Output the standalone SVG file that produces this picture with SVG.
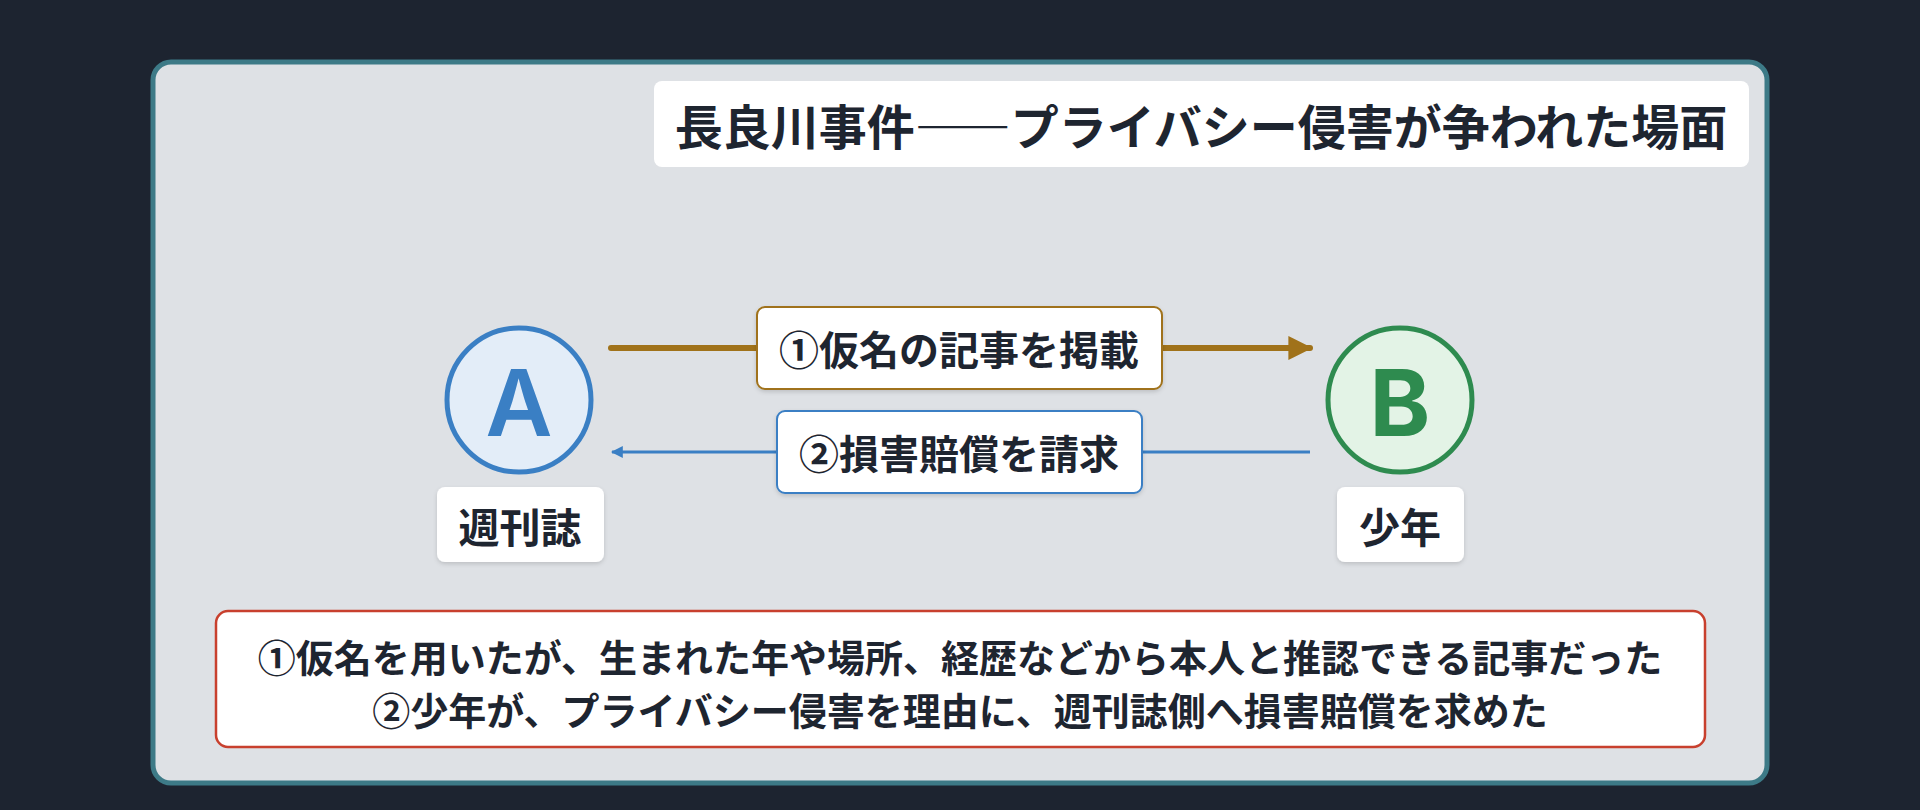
<svg xmlns="http://www.w3.org/2000/svg" width="1920" height="810" viewBox="0 0 1920 810">
<style>
text{font-family:"Noto Sans CJK JP","Noto Sans",sans-serif;fill:#1e2530;text-anchor:middle;dominant-baseline:central;font-weight:700}
.box{fill:#ffffff}
</style>
<defs>
<marker id="ag" viewBox="0 0 10 10" refX="9" refY="5" markerWidth="4" markerHeight="4" orient="auto"><path d="M0,0L10,5L0,10z" fill="#a0721a"/></marker>
<marker id="ab" viewBox="0 0 10 10" refX="9" refY="5" markerWidth="4" markerHeight="4" orient="auto"><path d="M0,0L10,5L0,10z" fill="#3a7fc4"/></marker>
<filter id="sh" x="-10%" y="-10%" width="120%" height="130%"><feDropShadow dx="0" dy="2" stdDeviation="2" flood-color="#000" flood-opacity="0.15"/></filter>
</defs>
<rect width="1920" height="810" fill="#1d2430"/>
<rect x="153" y="62" width="1614" height="721" rx="18" fill="#dee1e5" stroke="#3d7a87" stroke-width="5"/>
<g id="title"><rect class="box" x="654" y="81" width="1095" height="86" rx="8"/><text x="1201" y="124" font-size="48" font-weight="600" style="font-weight:600">長良川事件――プライバシー侵害が争われた場面</text></g>
<g id="connectors">
<line x1="611" y1="348" x2="1310" y2="348" stroke="#a0721a" stroke-width="6" stroke-linecap="round" marker-end="url(#ag)"/>
<line x1="1310" y1="452" x2="612" y2="452" stroke="#3a7fc4" stroke-width="3" marker-end="url(#ab)"/>
<g id="label1"><rect class="box" x="757" y="307" width="405" height="82" rx="8" stroke="#a0721a" stroke-width="2" filter="url(#sh)"/><text x="959" y="348" font-size="40">①仮名の記事を掲載</text></g>
<g id="label2"><rect class="box" x="777" y="411" width="365" height="82" rx="8" stroke="#3a7fc4" stroke-width="2" filter="url(#sh)"/><text x="959" y="452" font-size="40">②損害賠償を請求</text></g>
</g>
<g id="nodeA"><circle cx="519" cy="400" r="72" fill="#e3edf8" stroke="#3a7fc4" stroke-width="5"/><text x="519" y="402" font-size="92" style="fill:#3a7fc4;font-family:Inter,'Noto Sans',sans-serif;font-weight:600">A</text>
<rect class="box" x="437" y="487" width="167" height="75" rx="8" filter="url(#sh)"/><text x="520" y="525" font-size="41">週刊誌</text></g>
<g id="nodeB"><circle cx="1400" cy="400" r="72" fill="#e3f3e6" stroke="#2e8b4f" stroke-width="5"/><text x="1400" y="402" font-size="92" style="fill:#2e8b4f;font-family:Inter,'Noto Sans',sans-serif;font-weight:700">B</text>
<rect class="box" x="1337" y="487" width="127" height="75" rx="8" filter="url(#sh)"/><text x="1400" y="525" font-size="41">少年</text></g>
<g id="note"><rect class="box" x="216" y="611" width="1489" height="136" rx="12" stroke="#c8402e" stroke-width="2.5"/>
<text x="960" y="655" font-size="38">①仮名を用いたが、生まれた年や場所、経歴などから本人と推認できる記事だった</text>
<text x="960" y="708" font-size="38">②少年が、プライバシー侵害を理由に、週刊誌側へ損害賠償を求めた</text></g>
</svg>
